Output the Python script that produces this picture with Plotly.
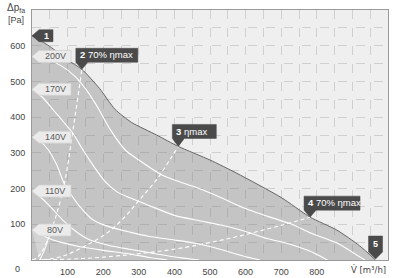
import plotly.graph_objects as go

# ---- data ----
max_q = [0, 50, 100, 140, 190, 233, 280, 350, 411, 500, 575, 700, 781, 856, 920, 965]
max_p = [628, 598, 560, 534, 480, 422, 385, 350, 318, 280, 243, 175, 120, 84, 40, 0]

v200_q = [0, 40, 80, 120, 150, 180, 220, 262, 300, 365, 400, 469, 530, 590, 669, 730, 781, 856, 912, 935]
v200_p = [570, 562, 545, 515, 480, 435, 365, 308, 280, 238, 224, 200, 175, 148, 120, 100, 76, 48, 14, 0]

v170_q = [0, 30, 60, 90, 115, 145, 175, 205, 240, 275, 330, 400, 470, 540, 600, 660, 715, 780, 830]
v170_p = [478, 455, 420, 385, 355, 305, 260, 220, 190, 174, 152, 125, 110, 96, 80, 60, 47, 25, 0]

v140_q = [0, 20, 46, 70, 90, 112, 135, 172, 220, 275, 330, 400, 463, 528, 590, 640]
v140_p = [344, 335, 308, 265, 215, 180, 149, 112, 92, 78, 66, 56, 46, 30, 12, 0]

v110_q = [0, 25, 51, 88, 130, 163, 220, 275, 350, 420, 470]
v110_p = [193, 175, 150, 110, 75, 56, 40, 30, 17, 6, 0]

v80_q = [0, 20, 46, 80, 135, 200, 275, 330, 380]
v80_p = [84, 75, 61, 50, 37, 27, 17, 7, 0]

light_q = [0, 20, 46, 40, 32, 22]
light_p = [84, 75, 61, 40, 20, 0]

eta70a_q = [0, 13, 32, 65, 93, 110, 125, 140]
eta70a_p = [0, 6, 30, 115, 224, 330, 430, 534]

etamax_q = [30, 90, 150, 210, 260, 303, 350, 390, 411]
etamax_p = [0, 12, 40, 75, 120, 170, 225, 285, 318]

eta70b_q = [0, 140, 275, 410, 556, 697, 781]
eta70b_p = [0, 4, 15, 32, 61, 96, 120]

curve_labels = ["200V", "170V", "140V", "110V", "80V"]
curve_starts = [v200_p[0], v170_p[0], v140_p[0], v110_p[0], v80_p[0]]

point_ids = ["1", "2", "3", "4", "5"]
point_texts = ["", "70% ηmax", "ηmax", "70% ηmax", ""]
point_q = [0, 140, 411, 781, 965]
point_p = [628, 534, 318, 120, 0]

x_ticks = [100, 200, 300, 400, 500, 600, 700, 800]
y_ticks = [100, 200, 300, 400, 500, 600]

FONT = "Liberation Sans"

fig = go.Figure()

# dark operating area under max curve
fig.add_trace(go.Scatter(x=max_q, y=max_p, mode="lines", fill="tozeroy",
                         fillcolor="rgba(120,120,120,0.36)",
                         line=dict(color="#666666", width=1, shape="spline", smoothing=0.6),
                         hoverinfo="skip"))
# lighter corner
fig.add_trace(go.Scatter(x=light_q, y=light_p, mode="lines", fill="toself",
                         fillcolor="rgba(255,255,255,0.28)",
                         line=dict(color="white", width=1), hoverinfo="skip"))

for q, p in [(v200_q, v200_p), (v170_q, v170_p), (v140_q, v140_p), (v110_q, v110_p), (v80_q, v80_p)]:
    fig.add_trace(go.Scatter(x=q, y=p, mode="lines",
                             line=dict(color="white", width=1.1, shape="spline", smoothing=0.6),
                             hoverinfo="skip"))

for q, p in [(eta70a_q, eta70a_p), (etamax_q, etamax_p), (eta70b_q, eta70b_p)]:
    fig.add_trace(go.Scatter(x=q, y=p, mode="lines",
                             line=dict(color="white", width=1.1, dash="4px,3px", shape="spline"),
                             hoverinfo="skip"))

shapes = []
annotations = []

# voltage tags at the left edge
for lab, p0 in zip(curve_labels, curve_starts):
    shapes.append(dict(type="path", xref="x", yref="y", xsizemode="pixel", ysizemode="pixel",
                       xanchor=0, yanchor=p0,
                       path="M 0,0 L 7,6 L 39,6 L 39,-6 L 7,-6 Z",
                       fillcolor="#ebebeb", line=dict(color="#d0d0d0", width=0.8)))
    annotations.append(dict(x=0, y=p0, xref="x", yref="y", text=lab, showarrow=False,
                            xanchor="center", yanchor="middle", xshift=23, yshift=0,
                            font=dict(family=FONT, size=9, color="#5a5a5a")))

# numbered callouts
callout_paths = {
    "1": "M 0,0 L 7,6 L 21,6 L 21,-6 L 7,-6 Z",
    "2": "M -6,21 L 56,21 L 56,7 L 6,7 L 0,0 L -6,7 Z",
    "3": "M -6,22 L 38,22 L 38,8 L 6,8 L 0,0 L -6,8 Z",
    "4": "M -6,21 L 50,21 L 50,7 L 6,7 L 0,0 L -6,7 Z",
    "5": "M -7,24 L 7,24 L 7,8 L 0,1 L -7,8 Z",
}
for pid, txt, q, p in zip(point_ids, point_texts, point_q, point_p):
    shapes.append(dict(type="path", xref="x", yref="y", xsizemode="pixel", ysizemode="pixel",
                       xanchor=q, yanchor=p, path=callout_paths[pid],
                       fillcolor="#4a4a4a", line=dict(color="#4a4a4a", width=0.5)))
    if pid == "1":
        annotations.append(dict(x=q, y=p, xref="x", yref="y", text="<b>1</b>", showarrow=False,
                                xanchor="center", yanchor="middle", xshift=14,
                                font=dict(family=FONT, size=9, color="white")))
    elif pid == "5":
        annotations.append(dict(x=q, y=p, xref="x", yref="y", text="<b>5</b>", showarrow=False,
                                xanchor="center", yanchor="middle", yshift=16,
                                font=dict(family=FONT, size=9, color="white")))
    else:
        annotations.append(dict(x=q, y=p, xref="x", yref="y", text="<b>%s</b> %s" % (pid, txt),
                                showarrow=False, xanchor="left", yanchor="middle", xshift=-4, yshift=14.5,
                                font=dict(family=FONT, size=9.5, color="white")))

# axis titles
annotations.append(dict(x=-0.045, y=1.0, xref="paper", yref="paper", text="Δp<sub>fa</sub>",
                        showarrow=False, xanchor="center", yanchor="bottom", yshift=-6,
                        font=dict(family=FONT, size=10, color="#444")))
annotations.append(dict(x=-0.045, y=1.0, xref="paper", yref="paper", text="[Pa]",
                        showarrow=False, xanchor="center", yanchor="top", yshift=-3,
                        font=dict(family=FONT, size=9, color="#444")))
annotations.append(dict(x=1.0, y=0, xref="paper", yref="paper", text="V̇ [m³/h]",
                        showarrow=False, xanchor="right", yanchor="middle", yshift=-9,
                        font=dict(family="DejaVu Sans", size=8.5, color="#444")))
annotations.append(dict(x=-0.04, y=0, xref="paper", yref="paper", text="0",
                        showarrow=False, xanchor="center", yanchor="middle", yshift=-9,
                        font=dict(family=FONT, size=9, color="#444")))

xt = list(range(50, 1000, 50))
yt = list(range(50, 700, 50))
fig.update_layout(
    width=398, height=278,
    margin=dict(l=32, r=10, t=10, b=18, autoexpand=False),
    paper_bgcolor="white", plot_bgcolor="#efefef",
    showlegend=False,
    shapes=shapes, annotations=annotations,
    xaxis=dict(range=[0, 1000], tickvals=xt, ticktext=[str(v) if v in x_ticks else "" for v in xt],
               showgrid=True, gridcolor="#d0d0d0", griddash="dash", gridwidth=1,
               showline=True, mirror=True, linecolor="#9a9a9a", linewidth=1,
               zeroline=False, ticks="", ticklabelstandoff=3, automargin=False,
               tickfont=dict(family=FONT, size=9, color="#444")),
    yaxis=dict(range=[0, 700], tickvals=yt, ticktext=[str(v) if v in y_ticks else "" for v in yt],
               showgrid=True, gridcolor="#d0d0d0", griddash="dash", gridwidth=1,
               showline=True, mirror=True, linecolor="#9a9a9a", linewidth=1,
               zeroline=False, ticks="", ticklabelstandoff=4, automargin=False,
               tickfont=dict(family=FONT, size=9, color="#444")),
)

fig.write_html("out.html")
